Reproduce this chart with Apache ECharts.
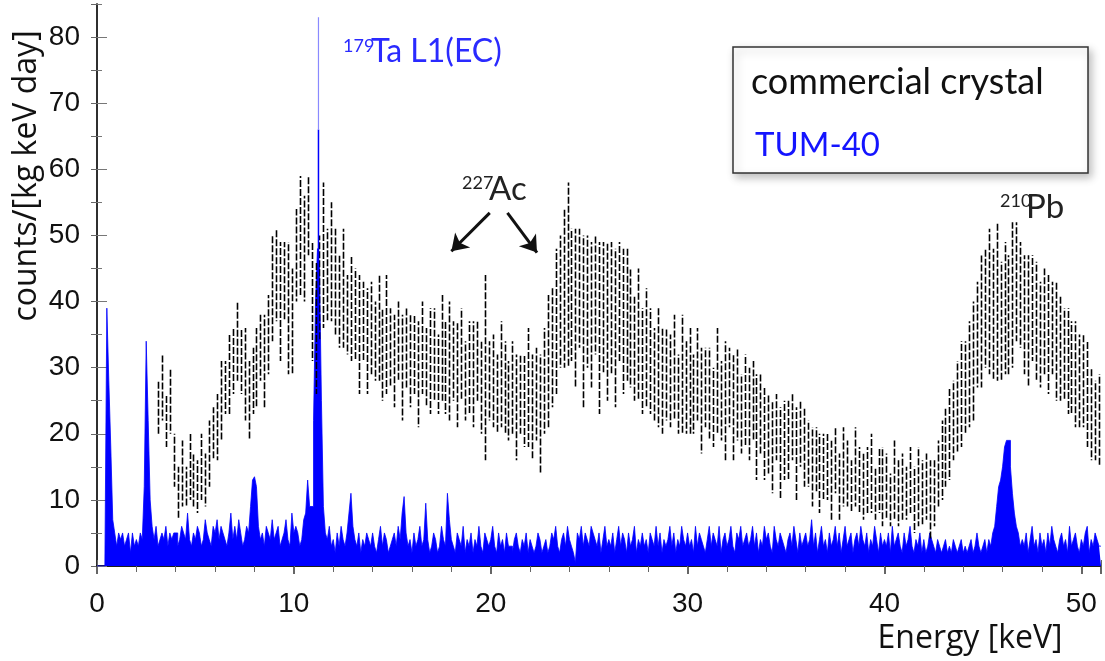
<!DOCTYPE html>
<html>
<head>
<meta charset="utf-8">
<script src="https://cdn.jsdelivr.net/npm/echarts@6/dist/echarts.min.js"></script>
<style>
  html, body { margin: 0; padding: 0; background: #fff; }
  #chart { width: 1105px; height: 661px; }
</style>
</head>
<body>
<div id="chart"></div>
<script>
// TUM-40 (blue): 0.1 keV bins from 0.0 keV, one row per keV
var blueStart = 0.0;
var blueBin = 0.1;
var blueCounts = [
    0, 0, 0, 0, 0, 39, 28, 18, 7, 5,
    3, 5, 4, 5, 3, 4, 5, 2, 5, 3,
    4, 3, 5, 4, 12, 34, 22, 10, 6, 4,
    6, 3, 4, 5, 4, 6, 3, 5, 4, 5,
    5, 3, 4, 6, 5, 4, 8, 4, 3, 5,
    4, 6, 5, 3, 4, 7, 5, 4, 3, 6,
    5, 7, 4, 6, 5, 4, 3, 5, 8, 4,
    6, 4, 7, 5, 3, 4, 6, 5, 9, 13,
    13.5, 12, 6, 4, 5, 3, 6, 5, 4, 7,
    4, 5, 6, 3, 4, 5, 7, 4, 3, 8,
    5, 6, 5, 3, 4, 7, 8, 13, 9, 9,
    22, 40, 48, 45, 25, 9, 5, 4, 6, 3,
    4, 2, 5, 3, 6, 4, 3, 5, 8, 11,
    6, 4, 3, 5, 2, 4, 3, 5, 4, 3,
    5, 3, 2, 4, 6, 3, 5, 4, 2, 3,
    4, 5, 3, 6, 4, 8, 10.5, 5, 3, 4,
    2, 5, 3, 4, 6, 3, 4, 9.5, 4, 2,
    3, 5, 4, 2, 3, 6, 4, 3, 11, 7,
    4, 3, 2, 5, 4, 3, 6, 2, 4, 3,
    5, 2, 4, 3, 6, 3, 2, 5, 4, 3,
    4, 6, 3, 2, 5, 3, 4, 2, 5, 3,
    3, 2, 4, 5, 3, 2, 4, 3, 5, 2,
    4, 3, 2, 3, 5, 4, 2, 3, 4, 2,
    3, 5, 4, 6, 3, 2, 4, 5, 3, 6,
    4, 3, 2, 0.5, 5, 4, 6, 3, 5, 4,
    3, 6, 5, 4, 3, 5, 2, 4, 6, 3,
    4, 3, 5, 2, 4, 6, 3, 5, 4, 2,
    5, 3, 4, 6, 2, 4, 3, 5, 3, 4,
    2, 5, 4, 3, 6, 3, 5, 2, 4, 3,
    4, 6, 3, 5, 2, 4, 3, 6, 4, 3,
    5, 3, 4, 2, 6, 3, 5, 4, 3, 2,
    4, 6, 3, 5, 4, 3, 6, 2, 4, 5,
    3, 4, 6, 3, 2, 5, 4, 6, 3, 4,
    5, 3, 4, 6, 3, 5, 2, 4, 3, 6,
    4, 5, 3, 2, 6, 4, 3, 5, 4, 3,
    2, 4, 5, 3, 6, 4, 2, 5, 3, 4,
    5, 3, 4, 7, 3, 5, 2, 4, 6, 3,
    4, 2, 5, 3, 4, 6, 3, 5, 2, 4,
    6, 3, 4, 5, 2, 4, 5, 3, 6, 4,
    3, 5, 2, 4, 3, 6, 4, 2, 5, 3,
    4, 3, 5, 2, 6, 3, 4, 5, 3, 2,
    5, 3, 4, 6, 3, 2, 4, 3, 5, 2,
    4, 2, 3, 5, 4, 3, 2, 4, 3, 2,
    3, 4, 2, 3, 2, 4, 3, 2, 3, 4,
    2, 3, 2, 3, 4, 2, 3, 5, 3, 2,
    3, 4, 2, 4, 3, 5, 6, 9, 12, 13,
    15, 18, 19, 19, 15, 11, 8, 6, 5, 3,
    4, 3, 5, 2, 4, 6, 3, 4, 2, 5,
    3, 4, 2, 5, 3, 6, 4, 3, 2, 4,
    5, 3, 4, 2, 6, 3, 4, 5, 3, 2,
    4, 3, 5, 6, 2, 4, 3, 5, 4, 3
];

// the 179Ta line: [energy, bin top, error bar top]
var blueSpike = [[11.25, 66, 83]];

// commercial crystal (black): 0.2 keV bins from 3.0 keV, one row per keV
var blackStart = 3.0;
var blackBin = 0.2;
var blackCounts = [
    24, 27, 22, 25, 16,
    11, 14, 12, 15, 13,
    12, 15, 13, 17, 20,
    21, 25, 27, 29, 31,
    34, 31, 29, 25, 28,
    30, 33, 31, 35, 42,
    44, 40, 43, 39, 37,
    47, 50, 48, 53, 40,
    36, 42, 47, 44, 46,
    43, 40, 42, 38, 39,
    38, 35, 37, 34, 36,
    34, 36, 32, 35, 33,
    31, 34, 30, 33, 31,
    32, 29, 33, 30, 31,
    32, 29, 33, 30, 31,
    31, 29, 32, 28, 30,
    29, 31, 27, 30, 28,
    28, 26, 29, 27, 25,
    27, 24, 26, 25, 27,
    24, 26, 23, 28, 31,
    33, 37, 40, 42, 44,
    41, 39, 42, 37, 40,
    38, 41, 36, 39, 37,
    39, 36, 40, 37, 38,
    36, 33, 35, 31, 33,
    31, 29, 30, 28, 29,
    28, 30, 26, 29, 27,
    28, 26, 29, 25, 27,
    26, 24, 28, 25, 25,
    27, 24, 26, 23, 25,
    23, 25, 21, 23, 20,
    20, 18, 21, 17, 19,
    19, 21, 17, 20, 18,
    17, 15, 16, 14, 15,
    15, 13, 16, 12, 15,
    14, 12, 15, 13, 12,
    13, 14, 11, 13, 12,
    12, 10, 13, 11, 12,
    11, 13, 10, 12, 11,
    12, 10, 11, 14, 16,
    18, 20, 22, 24, 26,
    27, 29, 31, 35, 37,
    39, 40, 38, 40, 37,
    39, 38, 41, 43, 41,
    38, 37, 39, 37, 35,
    37, 35, 36, 34, 33,
    32, 31, 30, 29, 28,
    28, 26, 23, 22, 22
];
var blackErrors = [
    4, 5, 4, 5, 4,
    4, 5, 3, 5, 4,
    4, 5, 4, 5, 4,
    5, 6, 4, 6, 5,
    6, 5, 7, 6, 5,
    6, 5, 7, 6, 8,
    7, 9, 6, 10, 8,
    7, 9, 8, 6, 9,
    10, 8, 11, 7, 9,
    8, 7, 9, 6, 8,
    7, 9, 6, 8, 7,
    6, 8, 7, 9, 6,
    7, 6, 8, 6, 7,
    6, 8, 7, 6, 8,
    7, 6, 8, 7, 9,
    6, 8, 7, 6, 7,
    8, 6, 7, 14, 6,
    7, 6, 8, 7, 6,
    7, 8, 6, 7, 9,
    8, 7, 9, 8, 10,
    9, 11, 10, 12, 14,
    10, 12, 9, 13, 10,
    11, 9, 13, 10, 12,
    10, 12, 9, 11, 10,
    9, 8, 10, 8, 9,
    8, 7, 9, 8, 7,
    7, 8, 6, 9, 7,
    8, 6, 7, 8, 6,
    7, 6, 8, 6, 9,
    6, 8, 7, 6, 7,
    7, 6, 8, 6, 7,
    6, 7, 5, 7, 6,
    6, 5, 7, 5, 6,
    5, 6, 5, 6, 5,
    5, 6, 5, 5, 6,
    5, 4, 6, 5, 5,
    5, 6, 4, 5, 6,
    5, 4, 6, 5, 5,
    4, 5, 5, 6, 5,
    5, 6, 5, 5, 6,
    6, 7, 6, 7, 8,
    7, 8, 9, 8, 10,
    9, 11, 10, 12, 9,
    10, 9, 11, 9, 8,
    9, 10, 8, 9, 8,
    8, 9, 7, 9, 8,
    7, 8, 7, 8, 7,
    7, 8, 7, 6, 7
];

var xMin = 0, xMax = 51, yMin = 0, yMax = 85;

var labelFont = "'Liberation Sans', Arial, sans-serif";
var noteFont = "Lato, 'Open Sans', sans-serif";
var titleFont = "'Open Sans', sans-serif";

// left bin edges, plus the closing edge so the last step is drawn
var blueData = blueCounts.map(function (v, i) {
    return [+(blueStart + i * blueBin).toFixed(2), v];
});
blueData.push([+(blueStart + blueCounts.length * blueBin).toFixed(2), blueCounts[blueCounts.length - 1]]);

var blackData = blackCounts.map(function (v, i) {
    return [+(blackStart + (i + 0.5) * blackBin).toFixed(3), v, blackErrors[i]];
});

function renderBlack(params, api) {
    var x = api.value(0);
    var v = api.value(1);
    var e = api.value(2);
    var lo = api.coord([x, Math.max(v - e, 0)]);
    var hi = api.coord([x, v + e]);
    var px = Math.round(hi[0]) + 0.5;
    return {
        type: 'line',
        shape: { x1: px, y1: lo[1], x2: px, y2: hi[1] },
        style: {
            stroke: '#000', lineWidth: 1.6, lineDash: [7, 2],
            lineDashOffset: (params.dataIndex * 5) % 9
        }
    };
}

function renderSpike(params, api) {
    var x = api.value(0);
    var base = api.coord([x, 0]);
    var mid = api.coord([x, api.value(1)]);
    var top = api.coord([x, api.value(2)]);
    return {
        type: 'group',
        children: [
            { type: 'line', shape: { x1: base[0], y1: base[1], x2: mid[0], y2: mid[1] },
              style: { stroke: '#0000ff', lineWidth: 1.5 } },
            { type: 'line', shape: { x1: mid[0], y1: mid[1], x2: top[0], y2: top[1] },
              style: { stroke: '#8a8aff', lineWidth: 1.2 } }
        ]
    };
}

function axisBase(extra) {
    var a = {
        type: 'value',
        splitLine: { show: false },
        axisLine: { show: true, lineStyle: { color: '#222', width: 1.5 } },
        axisTick: { show: true, inside: true, length: 6, lineStyle: { color: '#666', width: 1 } },
        axisLabel: { show: false }
    };
    for (var k in extra) {
        if (extra.hasOwnProperty(k)) {
            a[k] = extra[k];
        }
    }
    return a;
}

var chart = echarts.init(document.getElementById('chart'));

chart.setOption({
    animation: false,
    backgroundColor: '#fff',
    grid: { left: 97, right: 4, top: 4, bottom: 95 },
    xAxis: [
        axisBase({
            min: xMin, max: xMax, interval: 2, position: 'bottom', offset: 8,
            axisLabel: {
                show: true, margin: 16, fontSize: 28, color: '#111', fontFamily: labelFont,
                formatter: function (v) { return v % 10 === 0 ? String(v) : ''; }
            }
        }),
        axisBase({
            min: xMin, max: xMax, interval: 10, position: 'bottom', offset: 0,
            axisLine: { show: true, lineStyle: { color: '#111', width: 2 } },
            axisTick: { show: true, inside: false, length: 8, lineStyle: { color: '#333', width: 1.5 } }
        }),
        axisBase({ min: xMin, max: xMax, interval: 2, position: 'top' })
    ],
    yAxis: [
        axisBase({
            min: yMin, max: yMax, interval: 10, position: 'left',
            axisTick: { show: true, inside: true, length: 10, lineStyle: { color: '#777', width: 1 } },
            axisLabel: {
                show: true, margin: 17, fontSize: 28, color: '#111', fontFamily: labelFont,
                showMaxLabel: false
            }
        }),
        axisBase({
            min: yMin, max: yMax, interval: 5, position: 'left',
            axisLine: { show: false },
            axisTick: { show: true, inside: true, length: 5, lineStyle: { color: '#777', width: 1 } }
        }),
        axisBase({ min: yMin, max: yMax, interval: 5, position: 'right' })
    ],
    series: [
        {
            name: 'TUM-40',
            type: 'line',
            step: 'end',
            symbol: 'none',
            data: blueData,
            lineStyle: { color: '#0000ff', width: 0.8 },
            areaStyle: { color: '#0000ff', opacity: 1 },
            clip: true,
            z: 2
        },
        {
            name: 'commercial crystal',
            type: 'custom',
            renderItem: renderBlack,
            data: blackData,
            encode: { x: 0, y: 1 },
            clip: true,
            z: 3
        },
        {
            name: 'Ta line',
            type: 'custom',
            renderItem: renderSpike,
            data: blueSpike,
            encode: { x: 0, y: 2 },
            clip: true,
            z: 4
        },
        {
            // arrows pointing at the 227Ac structures
            type: 'line',
            data: [],
            silent: true,
            markLine: {
                silent: true,
                symbol: ['none', 'arrow'],
                symbolSize: 16,
                label: { show: false },
                lineStyle: { color: '#111', width: 3, type: 'solid' },
                data: [
                    [{ coord: [19.95, 53.4] }, { coord: [18.0, 47.6] }],
                    [{ coord: [20.85, 53.4] }, { coord: [22.35, 47.4] }]
                ]
            }
        }
    ],
    graphic: [
        {
            type: 'text', x: 27, y: 176, rotation: Math.PI / 2,
            style: { text: 'counts/[kg keV day]', font: '32px ' + titleFont, fill: '#111',
                     align: 'center', verticalAlign: 'middle' }
        },
        {
            type: 'text', x: 970, y: 639,
            style: { text: 'Energy [keV]', font: '32px ' + titleFont, fill: '#111',
                     align: 'center', verticalAlign: 'middle' }
        },
        {
            type: 'rect', shape: { x: 733, y: 47, width: 355, height: 126 },
            style: { fill: '#fff', stroke: '#333', lineWidth: 1.5,
                     shadowBlur: 8, shadowOffsetX: 3, shadowOffsetY: 4, shadowColor: 'rgba(0,0,0,0.25)' },
            z: 10
        },
        {
            type: 'text', x: 751, y: 82, z: 11,
            style: { text: 'commercial crystal', font: '36px ' + noteFont, fill: '#111', verticalAlign: 'middle' }
        },
        {
            type: 'text', x: 755, y: 145, z: 11,
            style: { text: 'TUM-40', font: '33px ' + noteFont, fill: '#1414ff', verticalAlign: 'middle' }
        },
        {
            type: 'text', x: 343, y: 46, z: 11,
            style: { text: '179', font: '18px ' + noteFont, fill: '#2a2aff', verticalAlign: 'middle' }
        },
        {
            type: 'text', x: 371, y: 52, z: 11,
            style: { text: 'Ta L1(EC)', font: '32px ' + noteFont, fill: '#2a2aff', verticalAlign: 'middle' }
        },
        {
            type: 'text', x: 462, y: 183, z: 11,
            style: { text: '227', font: '18px ' + noteFont, fill: '#222', verticalAlign: 'middle' }
        },
        {
            type: 'text', x: 489, y: 189, z: 11,
            style: { text: 'Ac', font: '33px ' + noteFont, fill: '#222', verticalAlign: 'middle' }
        },
        {
            type: 'text', x: 1000, y: 201, z: 11,
            style: { text: '210', font: '18px ' + noteFont, fill: '#222', verticalAlign: 'middle' }
        },
        {
            type: 'text', x: 1026, y: 207, z: 11,
            style: { text: 'Pb', font: '33px ' + noteFont, fill: '#222', verticalAlign: 'middle' }
        }
    ]
});
</script>
</body>
</html>
